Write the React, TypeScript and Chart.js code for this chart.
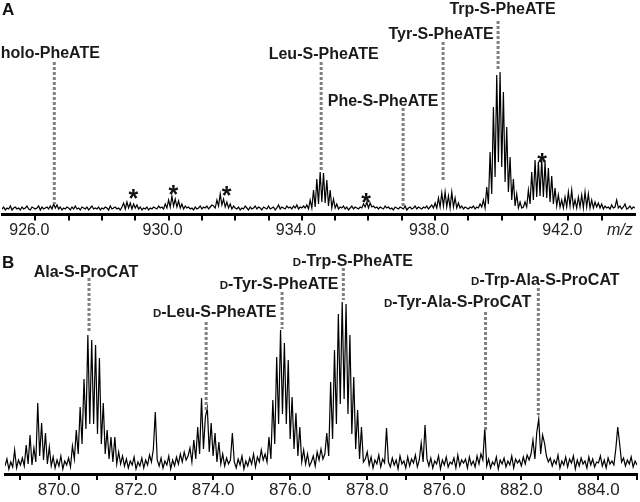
import React, { useEffect, useRef } from 'react';
import { Chart, registerables } from 'chart.js';

Chart.register(...registerables);

// ---------- Panel A data ----------
const A_MZ_START = 925.0;
const A_MZ_STEP = 0.05;
const A_INTENSITY = [
  3,5,2,4,3,6,2,4,5,3,4,2,5,3,4,6,3,2,5,4,
  3,4,6,2,5,3,4,5,3,6,3,8,4,7,3,5,2,4,3,5,
  4,2,5,3,6,3,4,2,5,4,3,5,2,4,6,3,4,3,5,2,
  4,3,5,4,2,6,3,4,5,3,4,2,5,9,3,10,4,9,3,8,
  4,7,3,5,2,4,3,5,2,4,3,5,4,3,6,4,5,3,8,4,
  12,5,16,6,13,5,11,4,8,3,6,4,5,3,4,2,5,3,4,6,
  3,5,4,6,3,5,7,6,4,12,6,18,7,13,5,10,4,8,3,6,
  4,3,5,2,4,3,6,4,2,5,3,4,6,3,5,4,2,5,4,3,
  6,3,4,5,2,4,7,3,5,4,3,6,4,5,3,6,4,7,3,5,
  4,6,4,7,3,12,4,22,5,33,8,40,10,39,9,32,6,22,4,13,
  4,8,3,5,4,6,3,5,2,4,6,3,5,4,3,5,4,8,5,10,
  4,9,5,6,4,5,3,5,4,3,6,4,5,3,4,2,5,4,3,5,
  4,3,6,2,4,5,3,4,6,3,5,4,3,5,4,6,3,5,7,4,
  9,4,14,5,19,6,20,5,16,4,20,5,14,4,9,4,6,3,5,4,
  3,5,4,6,3,5,4,8,5,12,4,25,8,60,18,105,35,137,50,140,
  45,120,30,85,20,55,12,33,6,18,4,10,4,5,10,5,22,8,40,12,
  52,15,50,16,53,15,50,14,44,10,36,8,24,6,17,5,12,4,15,5,
  20,6,22,5,12,4,15,5,17,4,20,5,18,4,12,4,10,5,9,4,
  8,3,6,4,5,3,7,4,5,12,4,6,3,5,8,3,4,6,3,5,4,
];
const A_TICK_VALUES = [926, 930, 934, 938, 942];
const A_TICK_LABELS = ['926.0', '930.0', '934.0', '938.0', '942.0'];
const A_PEAK_LABELS = ['holo-PheATE', 'Leu-S-PheATE', 'Phe-S-PheATE', 'Tyr-S-PheATE', 'Trp-S-PheATE'];
const A_PEAK_MZ = [926.57, 934.58, 937.04, 938.24, 939.89];
const A_LINE_TOP = [150, 150, 104, 170, 191];
const A_LINE_BOTTOM = [8, 42, 5, 32, 142];
const A_LABEL_Y = [159.5, 159, 112, 179, 203.5];
const A_STAR_MZ = [928.94, 930.14, 931.74, 935.93, 941.21];
const A_STAR_Y = [20, 24, 23, 16, 56];

// ---------- Panel B data ----------
const B_MZ_START = 868.6;
const B_MZ_STEP = 0.05;
const B_INTENSITY = [
  8,15,5,12,7,24,6,14,9,16,8,29,10,39,9,26,12,71,18,51,
  14,41,10,27,8,17,6,14,8,18,5,13,9,16,7,28,15,44,20,67,
  30,95,45,139,50,134,50,129,40,116,30,71,20,44,15,37,12,37,10,22,
  10,18,8,15,6,13,9,17,5,12,8,16,6,14,9,19,12,25,62,14,
  8,16,6,13,9,18,5,14,8,17,10,20,12,22,14,18,26,12,34,15,
  47,20,76,25,57,66,22,51,18,41,12,32,10,20,8,16,10,14,41,12,
  6,15,9,18,5,13,8,16,10,20,7,17,12,24,14,20,12,37,15,74,
  30,117,50,144,60,131,50,114,35,77,25,61,18,47,12,24,10,20,8,12,
  18,8,22,14,25,15,20,41,18,92,35,124,50,160,70,172,75,170,60,139,
  40,97,25,64,15,47,12,15,22,9,17,6,14,10,19,7,15,11,46,12,
  7,16,9,14,5,18,10,13,6,17,8,15,11,19,7,14,31,12,49,15,
  8,16,6,13,10,18,5,14,9,17,7,12,10,16,6,19,8,14,11,15,
  6,17,9,13,7,18,10,20,14,46,8,15,6,12,9,17,5,14,10,16,
  7,13,9,18,6,15,11,14,8,17,10,19,14,20,34,15,42,55,20,39,
  31,18,12,16,8,14,10,19,6,13,9,17,7,15,11,18,5,14,8,16,
  10,13,6,17,9,15,7,12,11,18,8,14,6,16,10,13,9,25,47,30,
  12,16,8,14,10,17,7,13,9,
];
const B_TICK_VALUES = [870, 872, 874, 876, 878, 880, 882, 884];
const B_TICK_LABELS = ['870.0', '872.0', '874.0', '876.0', '878.0', '876.0', '882.0', '884.0'];
const B_PEAK_PREFIX = ['', 'D', 'D', 'D', 'D', 'D'];
const B_PEAK_LABELS = ['Ala-S-ProCAT', '-Leu-S-PheATE', '-Tyr-S-PheATE', '-Trp-S-PheATE', '-Tyr-Ala-S-ProCAT', '-Trp-Ala-S-ProCAT'];
const B_PEAK_MZ = [870.78, 873.82, 875.79, 877.38, 881.07, 882.44];
const B_LINE_TOP = [196, 152, 182, 206, 162, 186];
const B_LINE_BOTTOM = [142, 64, 145, 174, 42, 59];
const B_LABEL_Y = [202.3, 162.3, 190.7, 214, 172.3, 194.7];

// ---------- layout / style (not data) ----------
const A_LABEL_DX = [-4, 2.5, -20, -2, 4.5];
const B_LABEL_DX = [-3, 8.5, -3, 9.5, -28, 7];
const FONT = '"Liberation Sans", Arial, Helvetica, sans-serif';

type PanelCfg = {
  letter: string;
  letterY: number;
  mz: number[];
  top: number[];
  bottom: number[];
  labelY: number[];
  labels: string[];
  prefix: string[];
  dx: number[];
  starMz: number[];
  starY: number[];
  mzLabel: boolean;
};

function annoPlugin(cfg: PanelCfg) {
  return {
    id: 'anno' + cfg.letter,
    afterDraw(chart: any) {
      const ctx: CanvasRenderingContext2D = chart.ctx;
      const xs = chart.scales.x;
      const ys = chart.scales.y;
      ctx.save();
      cfg.mz.forEach((mz, k) => {
        const x = xs.getPixelForValue(mz);
        ctx.strokeStyle = '#808080';
        ctx.lineWidth = 3;
        ctx.setLineDash([3, 2]);
        ctx.beginPath();
        ctx.moveTo(x, ys.getPixelForValue(cfg.top[k]));
        ctx.lineTo(x, ys.getPixelForValue(cfg.bottom[k]));
        ctx.stroke();
        ctx.setLineDash([]);
        const big = `bold 16px ${FONT}`;
        const small = `bold 11.5px ${FONT}`;
        const pre = cfg.prefix[k];
        ctx.font = small;
        const wp = pre ? ctx.measureText(pre).width : 0;
        ctx.font = big;
        const wt = ctx.measureText(cfg.labels[k]).width;
        const cx = x + cfg.dx[k];
        const base = ys.getPixelForValue(cfg.labelY[k]) + 5.7;
        let left = cx - (wp + wt) / 2;
        ctx.fillStyle = '#1a1a1a';
        ctx.textAlign = 'left';
        ctx.textBaseline = 'alphabetic';
        if (pre) {
          ctx.font = small;
          ctx.fillText(pre, left, base);
          left += wp;
          ctx.font = big;
        }
        ctx.fillText(cfg.labels[k], left, base);
      });
      // asterisks
      ctx.fillStyle = '#111';
      ctx.textAlign = 'center';
      ctx.textBaseline = 'alphabetic';
      ctx.font = `bold 25px ${FONT}`;
      cfg.starMz.forEach((mz, k) => {
        const x = xs.getPixelForValue(mz);
        const y = ys.getPixelForValue(cfg.starY[k]);
        ctx.fillText('*', x, y + 14.5);
      });
      // panel letter
      ctx.textAlign = 'left';
      ctx.fillStyle = '#111';
      ctx.font = `bold 17px ${FONT}`;
      ctx.fillText(cfg.letter, 2, cfg.letterY);
      if (cfg.mzLabel) {
        ctx.font = `italic 16px ${FONT}`;
        ctx.fillStyle = '#222';
        ctx.fillText('m/z', chart.chartArea.right - 28, chart.chartArea.bottom + 20);
      }
      ctx.restore();
    },
  };
}

function makeChart(
  canvas: HTMLCanvasElement,
  start: number,
  step: number,
  values: number[],
  xmin: number,
  xmax: number,
  ymin: number,
  ymax: number,
  tickVals: number[],
  tickLabels: string[],
  tickMin: number,
  tickMax: number,
  axisHeight: number,
  padding: any,
  fontSize: number,
  labelOffset: number,
  tickPad: number,
  cfg: PanelCfg
) {
  const points = values.map((v, i) => ({ x: start + i * step, y: v }));
  return new Chart(canvas, {
    type: 'line',
    data: {
      datasets: [
        {
          data: points,
          borderColor: '#000',
          borderWidth: 1.2,
          pointRadius: 0,
          tension: 0,
          fill: false,
        },
      ],
    },
    options: {
      animation: false,
      responsive: false,
      maintainAspectRatio: false,
      layout: { padding },
      plugins: { legend: { display: false }, tooltip: { enabled: false } },
      scales: {
        x: {
          type: 'linear',
          min: xmin,
          max: xmax,
          afterFit: (s: any) => {
            s.height = axisHeight;
          },
          grid: {
            drawOnChartArea: false,
            drawTicks: true,
            tickLength: 6,
            lineWidth: 2,
            color: (c: any) =>
              c.tick && (c.tick.value < tickMin - 1e-6 || c.tick.value > tickMax + 1e-6)
                ? 'rgba(0,0,0,0)'
                : '#000',
          },
          border: { display: true, color: '#000', width: 3 },
          ticks: {
            stepSize: 1,
            autoSkip: false,
            maxRotation: 0,
            minRotation: 0,
            includeBounds: false,
            labelOffset,
            padding: tickPad,
            color: '#222',
            font: { family: FONT, size: fontSize },
            callback: (v: any) => {
              const idx = tickVals.findIndex((t) => Math.abs(t - Number(v)) < 1e-6);
              return idx >= 0 ? tickLabels[idx] : '';
            },
          },
        },
        y: { display: false, min: ymin, max: ymax },
      },
    },
    plugins: [annoPlugin(cfg)],
  } as any);
}

export default function App() {
  const refA = useRef<HTMLCanvasElement>(null);
  const refB = useRef<HTMLCanvasElement>(null);

  useEffect(() => {
    const chartA = makeChart(
      refA.current!,
      A_MZ_START,
      A_MZ_STEP,
      A_INTENSITY,
      925,
      944,
      -2.5,
      202.5,
      A_TICK_VALUES,
      A_TICK_LABELS,
      926,
      943,
      30.5,
      { left: 2, right: 5, top: 9.5, bottom: 0 },
      16,
      -6,
      0,
      {
        letter: 'A',
        letterY: 15,
        mz: A_PEAK_MZ,
        top: A_LINE_TOP,
        bottom: A_LINE_BOTTOM,
        labelY: A_LABEL_Y,
        labels: A_PEAK_LABELS,
        prefix: A_PEAK_LABELS.map(() => ''),
        dx: A_LABEL_DX,
        starMz: A_STAR_MZ,
        starY: A_STAR_Y,
        mzLabel: true,
      }
    );
    const chartB = makeChart(
      refB.current!,
      B_MZ_START,
      B_MZ_STEP,
      B_INTENSITY,
      868.6,
      885,
      0,
      222,
      B_TICK_VALUES,
      B_TICK_LABELS,
      869,
      885,
      28,
      { left: 5, right: 3, top: 7, bottom: 0 },
      17,
      0,
      0,
      {
        letter: 'B',
        letterY: 23,
        mz: B_PEAK_MZ,
        top: B_LINE_TOP,
        bottom: B_LINE_BOTTOM,
        labelY: B_LABEL_Y,
        labels: B_PEAK_LABELS,
        prefix: B_PEAK_PREFIX,
        dx: B_LABEL_DX,
        starMz: [],
        starY: [],
        mzLabel: false,
      }
    );
    return () => {
      chartA.destroy();
      chartB.destroy();
    };
  }, []);

  return (
    <div style={{ position: 'absolute', left: 0, top: 0, width: 640, height: 502, background: '#fff' }}>
      <canvas ref={refA} width={640} height={245} style={{ position: 'absolute', left: 0, top: 0, width: 640, height: 245 }} />
      <canvas ref={refB} width={640} height={257} style={{ position: 'absolute', left: 0, top: 245, width: 640, height: 257 }} />
    </div>
  );
}
